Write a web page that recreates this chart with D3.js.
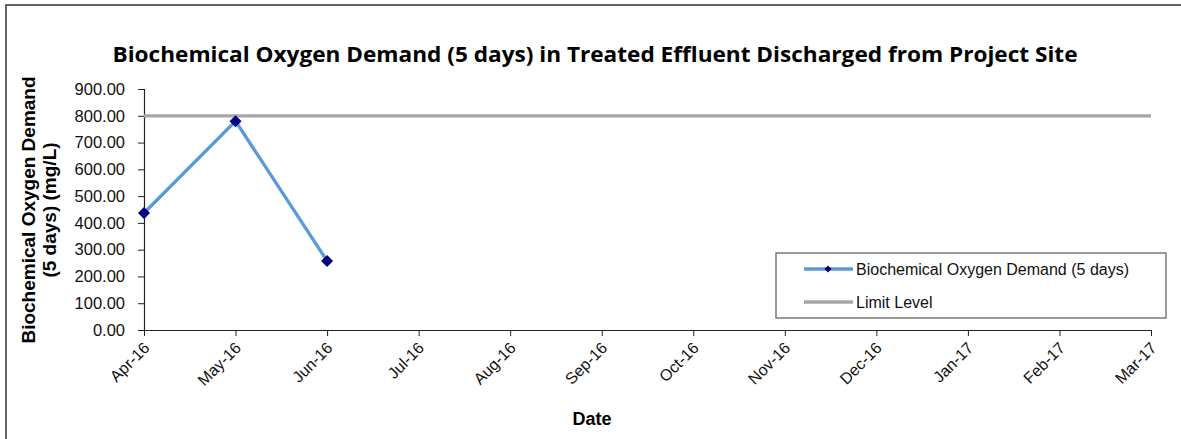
<!DOCTYPE html>
<html>
<head>
    <title>BOD5 Treated Effluent</title>
    <script src="https://d3js.org/d3.v7.min.js"></script>
    <style>
        body { margin: 0; background: #fff; }
        text { font-family: "Liberation Sans", Arial, sans-serif; }
    </style>
</head>
<body>
    <svg id="chart" width="1181" height="439"></svg>

    <script>
        // months on the x axis
        const months = ['Apr-16', 'May-16', 'Jun-16', 'Jul-16', 'Aug-16', 'Sep-16',
                        'Oct-16', 'Nov-16', 'Dec-16', 'Jan-17', 'Feb-17', 'Mar-17'];
        // measured BOD (only first three months reported)
        const bodMonths = ['Apr-16', 'May-16', 'Jun-16'];
        const bodValues = [437, 780, 258];
        // limit level
        const limitValue = 800;
        const yTicks = [0, 100, 200, 300, 400, 500, 600, 700, 800, 900];

        const svg = d3.select('#chart');
        const plotLeft = 144, plotRight = 1151, plotTop = 89, plotBottom = 330;

        // outer border (top + left only visible)
        svg.append('path')
            .attr('d', 'M6,439 L6,5 L1181,5')
            .attr('fill', 'none')
            .attr('stroke', '#333')
            .attr('stroke-width', 1.5);

        const x = d3.scalePoint().domain(months).range([plotLeft, plotRight]);
        const y = d3.scaleLinear().domain([0, 900]).range([plotBottom, plotTop]);

        // title
        svg.append('text')
            .attr('x', 595)
            .attr('y', 62)
            .attr('text-anchor', 'middle')
            .style('font-family', '"Open Sans", Lato, sans-serif')
            .attr('font-size', '22px')
            .attr('font-weight', 'bold')
            .attr('textLength', 965)
            .attr('lengthAdjust', 'spacingAndGlyphs')
            .text('Biochemical Oxygen Demand (5 days) in Treated Effluent Discharged from Project Site');

        // y axis
        const yAxis = svg.append('g')
            .attr('transform', `translate(${plotLeft},0)`)
            .call(d3.axisLeft(y).tickValues(yTicks).tickSize(6).tickPadding(13)
                .tickFormat(d => d.toFixed(2)));
        yAxis.select('.domain').attr('stroke', '#222').attr('stroke-width', 1.2);
        yAxis.selectAll('.tick line').attr('stroke', '#222');
        yAxis.selectAll('text').attr('font-size', '16.5px').attr('fill', '#111')
            .style('font-family', '"Liberation Sans", Arial, sans-serif');

        // x axis
        const xAxis = svg.append('g')
            .attr('transform', `translate(0,${plotBottom})`)
            .call(d3.axisBottom(x).tickSize(6).tickSizeOuter(0));
        xAxis.select('.domain').attr('stroke', '#222').attr('stroke-width', 1.2);
        xAxis.selectAll('.tick line').attr('stroke', '#222');
        xAxis.selectAll('text')
            .attr('font-size', '16px')
            .attr('fill', '#111')
            .style('font-family', '"Liberation Sans", Arial, sans-serif')
            .attr('text-anchor', 'end')
            .attr('dy', null)
            .attr('y', 0)
            .attr('transform', 'translate(6,19) rotate(-45)');

        // axis titles
        svg.append('text')
            .attr('transform', 'translate(35,210) rotate(-90)')
            .attr('text-anchor', 'middle')
            .attr('font-size', '19px')
            .attr('font-weight', 'bold')
            .selectAll('tspan')
            .data(['Biochemical Oxygen Demand', '(5 days) (mg/L)'])
            .join('tspan')
            .attr('x', 0)
            .attr('dy', (d, i) => i === 0 ? 0 : 21)
            .text(d => d);

        svg.append('text')
            .attr('x', 592)
            .attr('y', 425)
            .attr('text-anchor', 'middle')
            .attr('font-size', '18px')
            .attr('font-weight', 'bold')
            .text('Date');

        // limit line
        svg.append('line')
            .attr('x1', x(months[0]))
            .attr('x2', x(months[months.length - 1]))
            .attr('y1', y(limitValue))
            .attr('y2', y(limitValue))
            .attr('stroke', '#a6a6a6')
            .attr('stroke-width', 3.3);

        // BOD series
        const pts = bodMonths.map((m, i) => [x(m), y(bodValues[i])]);
        svg.append('path')
            .attr('d', d3.line()(pts))
            .attr('fill', 'none')
            .attr('stroke', '#5b9bd5')
            .attr('stroke-width', 3.3);

        const diamond = d3.symbol().type(d3.symbolDiamond2).size(92);
        svg.selectAll('.marker')
            .data(pts)
            .join('path')
            .attr('class', 'marker')
            .attr('transform', d => `translate(${d[0]},${d[1]})`)
            .attr('d', diamond)
            .attr('fill', '#000080');

        // legend
        const lg = svg.append('g');
        lg.append('rect')
            .attr('x', 776).attr('y', 253)
            .attr('width', 390).attr('height', 65)
            .attr('fill', '#fff')
            .attr('stroke', '#666')
            .attr('stroke-width', 1.3);
        lg.append('line')
            .attr('x1', 804).attr('x2', 853).attr('y1', 269).attr('y2', 269)
            .attr('stroke', '#5b9bd5').attr('stroke-width', 3.5);
        lg.append('path')
            .attr('transform', 'translate(828,269)')
            .attr('d', d3.symbol().type(d3.symbolDiamond2).size(32))
            .attr('fill', '#000080');
        lg.append('line')
            .attr('x1', 804).attr('x2', 853).attr('y1', 302).attr('y2', 302)
            .attr('stroke', '#a6a6a6').attr('stroke-width', 3.5);
        lg.selectAll('.lt')
            .data(['Biochemical Oxygen Demand (5 days)', 'Limit Level'])
            .join('text')
            .attr('class', 'lt')
            .attr('x', 856)
            .attr('y', (d, i) => 275 + i * 33)
            .attr('font-size', '16px')
            .attr('fill', '#111')
            .text(d => d);
    </script>
</body>
</html>
